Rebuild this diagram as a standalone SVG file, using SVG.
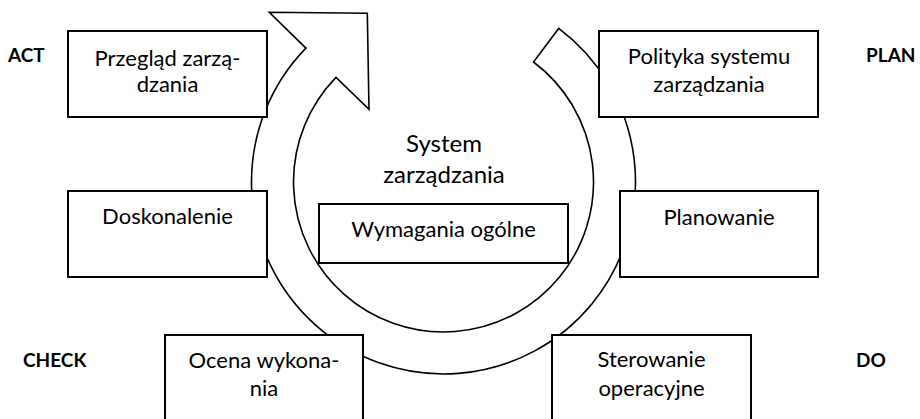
<svg xmlns="http://www.w3.org/2000/svg" width="920" height="419" viewBox="0 0 920 419">
<style>
.box{fill:#fff;stroke:#000;stroke-width:2}
.ring{fill:#fff;stroke:#000;stroke-width:1.6;stroke-linejoin:miter}
.t{font-family:Lato,"Liberation Sans",sans-serif;font-size:22px;fill:#000;text-anchor:middle}
.c{font-family:Lato,"Liberation Sans",sans-serif;font-size:24px;fill:#000;text-anchor:middle}
.b{font-family:Lato,"Liberation Sans",sans-serif;font-size:19px;font-weight:bold;fill:#000}
</style>
<rect width="920" height="419" fill="#fff"/>
<g id="connectors">
<path id="cycle-arrow" class="ring" d="M 558.7 28.4 A 192 192 0 1 1 305.9 48.1 L 269.3 12.3 L 367.3 13.3 L 369 109.3 L 336 77.4 A 150 150 0 1 0 533.5 62 Z"/>
</g>
<g id="system">
<text class="c" x="444" y="152">System</text>
<text class="c" x="444" y="183">zarządzania</text>
</g>
<g id="wymagania">
<rect class="box" x="319" y="204" width="249" height="59"/>
<text class="t" x="443.5" y="237">Wymagania ogólne</text>
</g>
<g id="przeglad">
<rect class="box" x="68" y="31" width="199" height="86"/>
<text class="t" x="167.5" y="66">Przegląd zarzą-</text>
<text class="t" x="167.5" y="92">dzania</text>
</g>
<g id="doskonalenie">
<rect class="box" x="68" y="191" width="199" height="86"/>
<text class="t" x="167.5" y="224">Doskonalenie</text>
</g>
<g id="polityka">
<rect class="box" x="599" y="31" width="219" height="86"/>
<text class="t" x="709" y="64">Polityka systemu</text>
<text class="t" x="709" y="92">zarządzania</text>
</g>
<g id="planowanie">
<rect class="box" x="620" y="191" width="198" height="86"/>
<text class="t" x="719" y="225">Planowanie</text>
</g>
<g id="ocena">
<rect class="box" x="165" y="335" width="198" height="100"/>
<text class="t" x="264" y="368">Ocena wykona-</text>
<text class="t" x="264" y="396">nia</text>
</g>
<g id="sterowanie">
<rect class="box" x="552" y="335" width="199" height="100"/>
<text class="t" x="651.5" y="367">Sterowanie</text>
<text class="t" x="651.5" y="396">operacyjne</text>
</g>
<g id="labels">
<text class="b" x="8" y="62">ACT</text>
<text class="b" x="866" y="62">PLAN</text>
<text class="b" x="23" y="367">CHECK</text>
<text class="b" x="856" y="367">DO</text>
</g>
</svg>
